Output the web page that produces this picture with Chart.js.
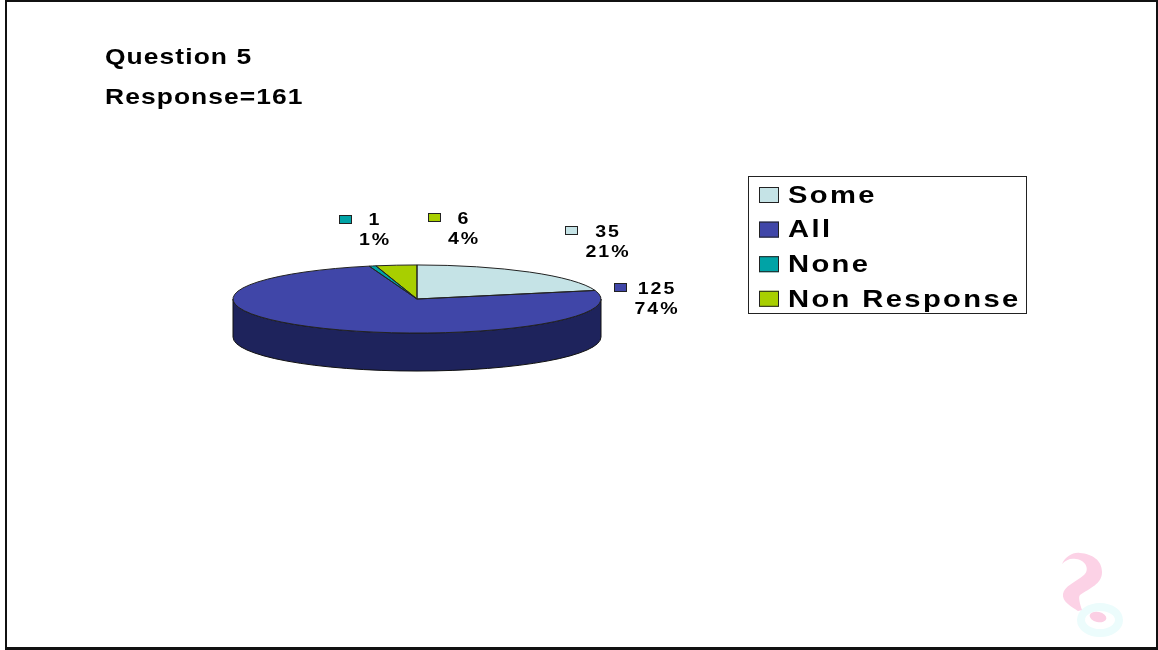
<!DOCTYPE html>
<html>
<head>
<meta charset="utf-8">
<title>Question 5</title>
<style>
  html, body { margin: 0; padding: 0; background: #fff; }
  #wrap { position: relative; width: 1158px; height: 650px; overflow: hidden; }
  #frame { position: absolute; left: 5px; top: 0; width: 1149px; height: 645px; border-style: solid; border-color: #111; border-width: 2px 2px 3px 2px; }
  #logo { position: absolute; left: 1040px; top: 540px; }
  canvas { position: absolute; left: 0; top: 0; }
</style>
</head>
<body>
<div id="wrap">
  <div id="frame"></div>
  <svg id="logo" width="118" height="110" viewBox="0 0 118 110">
    <ellipse cx="60" cy="80" rx="19" ry="13" fill="none" stroke="#ecfcfc" stroke-width="8"/>
    <ellipse cx="58" cy="77" rx="8.5" ry="5" fill="#fbcfe4" transform="rotate(12 58 77)"/>
    <path d="M22 24 C26 16 33 12 40 13 C52 14 62 20 62 32 C62 44 50 48 40 55 C38 57 40 64 42 70 L38 71 C30 66 22 61 23 54 C24 46 36 42 44 35 C50 30 46 20 36 19 C30 18 26 20 22 24 Z" fill="#fcd2e6"/>
  </svg>
  <canvas id="chart" width="1158" height="650"></canvas>
</div>
<script src="https://cdn.jsdelivr.net/npm/chart.js@4"></script>
<script>
const categories = ['Some', 'All', 'None', 'Non Response'];
const counts = [35, 125, 1, 6];
const percentLabels = ['21%', '74%', '1%', '4%'];
const titleLines = ['Question 5', 'Response=161'];

const sliceColors = ['#c5e3e6', '#4046a8', '#00a3a6', '#a8cf00'];
const wallColors = ['#8aa0a2', '#1e235c', '#006c6e', '#6f8900'];
const FONT = '"Liberation Sans", Arial, sans-serif';

// the flat look comes from squashing the pie around its centre
const SQUASH = 0.185;
const DEPTH = 38;
const squashed = (ctx, arc) => {
    ctx.translate(arc.x, arc.y);
    ctx.scale(1, SQUASH);
    ctx.translate(-arc.x, -arc.y);
};

const slicePath = (ctx, arc) => {
    ctx.beginPath();
    ctx.moveTo(arc.x, arc.y);
    ctx.arc(arc.x, arc.y, arc.outerRadius, arc.startAngle, arc.endAngle);
    ctx.closePath();
};

const pie3d = {
    id: 'pie3d',
    beforeDatasetsDraw(chart) {
        const ctx = chart.ctx;
        const arcs = chart.getDatasetMeta(0).data;
        // side wall, only the front half of each slice shows
        arcs.forEach((arc, i) => {
            const a = Math.max(arc.startAngle, 0);
            const b = Math.min(arc.endAngle, Math.PI);
            if (b <= a) return;
            const ry = arc.outerRadius * SQUASH;
            ctx.save();
            ctx.beginPath();
            ctx.ellipse(arc.x, arc.y, arc.outerRadius, ry, 0, a, b);
            ctx.ellipse(arc.x, arc.y + DEPTH, arc.outerRadius, ry, 0, b, a, true);
            ctx.closePath();
            ctx.fillStyle = wallColors[i];
            ctx.fill();
            ctx.strokeStyle = '#111';
            ctx.lineWidth = 1;
            ctx.stroke();
            ctx.restore();
        });
        ctx.save();
        squashed(ctx, arcs[0]);
    },
    afterDatasetsDraw(chart) {
        const ctx = chart.ctx;
        ctx.restore();
        // outlines are stroked after the squash so they stay one pixel wide
        chart.getDatasetMeta(0).data.forEach((arc) => {
            ctx.save();
            squashed(ctx, arc);
            slicePath(ctx, arc);
            ctx.restore();
            ctx.strokeStyle = '#222';
            ctx.lineWidth = 1;
            ctx.stroke();
        });
    }
};

const labelSpots = [
    { key: [565, 226], x: 608, y: 232 },
    { key: [614, 283], x: 657, y: 289 },
    { key: [339, 215], x: 375, y: 220 },
    { key: [428, 213], x: 464, y: 219 }
];

// the original text is wider than any installed face, so stretch it sideways
const wideText = (ctx, text, x, y, stretch) => {
    ctx.save();
    ctx.translate(x, y);
    ctx.scale(stretch, 1);
    ctx.fillText(text, 0, 0);
    ctx.restore();
};

const annotations = {
    id: 'annotations',
    afterDraw(chart) {
        const ctx = chart.ctx;
        ctx.save();
        ctx.fillStyle = '#000';
        ctx.textBaseline = 'middle';

        // heading
        ctx.font = 'bold 22px ' + FONT;
        ctx.letterSpacing = '0.9px';
        ctx.textAlign = 'left';
        wideText(ctx, titleLines[0], 105, 58, 1.2);
        wideText(ctx, titleLines[1], 105, 98, 1.2);

        // value and percent beside each slice
        ctx.font = 'bold 17px ' + FONT;
        ctx.letterSpacing = '1.7px';
        categories.forEach((c, i) => {
            const s = labelSpots[i];
            ctx.fillStyle = sliceColors[i];
            ctx.fillRect(s.key[0], s.key[1], 13, 9);
            ctx.strokeStyle = '#222';
            ctx.lineWidth = 1;
            ctx.strokeRect(s.key[0] + 0.5, s.key[1] + 0.5, 12, 8);
            ctx.fillStyle = '#000';
            ctx.textAlign = 'center';
            wideText(ctx, String(counts[i]), s.x, s.y, 1.15);
            wideText(ctx, percentLabels[i], s.x, s.y + 20, 1.15);
        });

        // legend box
        ctx.strokeStyle = '#222';
        ctx.lineWidth = 1;
        ctx.fillStyle = '#fff';
        ctx.fillRect(748, 176, 279, 137);
        ctx.strokeRect(748.5, 176.5, 278, 137);
        ctx.font = 'bold 24.5px ' + FONT;
        ctx.letterSpacing = '2px';
        ctx.textAlign = 'left';
        categories.forEach((c, i) => {
            const y = 195 + i * 34.6;
            ctx.fillStyle = sliceColors[i];
            ctx.fillRect(759, y - 8, 20, 16);
            ctx.strokeRect(759.5, y - 7.5, 19, 15);
            ctx.fillStyle = '#000';
            wideText(ctx, c, 788, y + 1, 1.19);
        });
        ctx.restore();
    }
};

new Chart(document.getElementById('chart').getContext('2d'), {
    type: 'pie',
    data: {
        labels: categories,
        datasets: [{
            data: counts,
            backgroundColor: sliceColors,
            borderWidth: 0
        }]
    },
    options: {
        responsive: false,
        animation: false,
        // puts the pie centre at 417,299 with radius 184
        layout: { padding: { left: 233, right: 557, top: 115, bottom: 167 } },
        plugins: {
            legend: { display: false },
            title: { display: false },
            tooltip: { enabled: false }
        }
    },
    plugins: [pie3d, annotations]
});
</script>
</body>
</html>
